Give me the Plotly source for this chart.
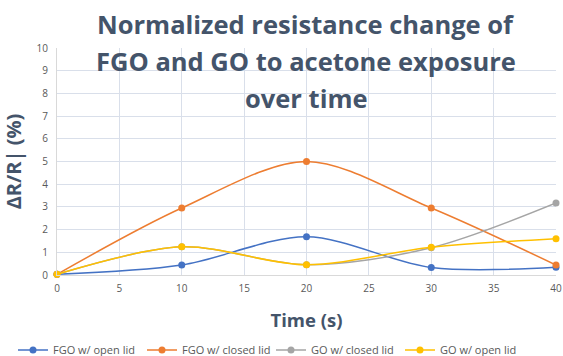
import plotly.graph_objects as go

time_s = [0, 10, 20, 30, 40]
fgo_open = [0.03, 0.44, 1.68, 0.33, 0.34]
fgo_closed = [0.03, 2.95, 5.0, 2.95, 0.44]
go_closed = [0.03, 1.24, 0.45, 1.2, 3.17]
go_open = [0.03, 1.24, 0.45, 1.22, 1.6]

title_lines = ["Normalized resistance change of", "FGO and GO to acetone exposure", "over time"]

series = [
    ("FGO w/ open lid", fgo_open, "#4472C4"),
    ("FGO w/ closed lid", fgo_closed, "#ED7D31"),
    ("GO w/ closed lid", go_closed, "#A5A5A5"),
    ("GO w/ open lid", go_open, "#FFC000"),
]

W, H = 563, 356
L, R, T, B = 57, 7, 48, 81
ph = H - T - B

fig = go.Figure()
for name, vals, col in series:
    fig.add_trace(go.Scatter(
        x=time_s, y=vals, name=name, mode="lines+markers",
        line=dict(color=col, width=1.5, shape="spline", smoothing=0.9),
        marker=dict(color=col, size=7),
        cliponaxis=False,
    ))

# title as three stacked lines (to match line spacing)
for txt, ypx in zip(title_lines, [24, 61, 98]):
    fig.add_annotation(
        text=txt, xref="paper", yref="paper",
        x=(306 - L) / (W - L - R), y=(H - B - ypx) / ph,
        xanchor="center", yanchor="middle", showarrow=False,
        font=dict(size=25.5, color="#44546A", family="Open Sans, sans-serif", weight="bold"),
    )

fig.update_layout(
    width=W, height=H,
    margin=dict(l=L, r=R, t=T, b=B, autoexpand=False),
    paper_bgcolor="white", plot_bgcolor="white",
    font=dict(family="Open Sans, sans-serif", color="#595959"),
    showlegend=True,
    legend=dict(orientation="h", x=(13 - L) / (W - L - R), xanchor="left",
                y=(H - B - 350) / ph, yanchor="middle",
                font=dict(size=11, color="#595959"), itemwidth=30,
                entrywidth=84, tracegroupgap=0),
    xaxis=dict(
        range=[0, 40], dtick=5, tick0=0,
        showgrid=True, gridcolor="#D9DFEA", gridwidth=1,
        showline=True, linecolor="#D9D9D9", zeroline=False,
        ticks="", tickfont=dict(size=10, color="#595959"), ticklabelstandoff=4,
        title=dict(text="<b>Time (s)</b>", font=dict(size=18.5, color="#44546A"), standoff=20),
        automargin=False,
    ),
    yaxis=dict(
        range=[0, 10], dtick=1,
        showgrid=True, gridcolor="#D9DFEA", gridwidth=1,
        showline=True, linecolor="#D9D9D9", zeroline=False,
        ticks="", tickfont=dict(size=10, color="#595959"), ticklabelstandoff=6,
        title=dict(text="<b>ΔR/R| (%)</b>", font=dict(size=20, color="#44546A"), standoff=10),
        automargin=False,
    ),
)

fig.write_html("out.html")
